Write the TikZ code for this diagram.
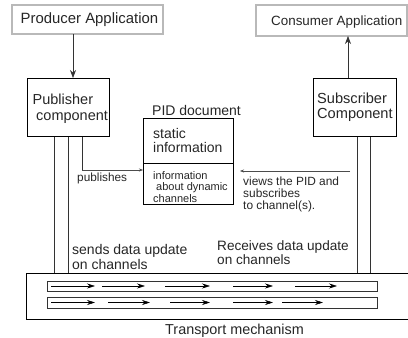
\documentclass[tikz,border=0pt]{standalone}
\usepackage{fontspec}
\setmainfont{Liberation Sans}
\usetikzlibrary{arrows.meta}
\newcommand{\fs}[2]{\fontsize{#1}{#2}\selectfont}
\tikzset{
  appbox/.style={draw=gray!55, line width=2pt, inner sep=0pt},
  compbox/.style={draw=black, line width=0.8pt, inner sep=0pt},
  txt/.style={anchor=base west, inner sep=0pt, align=left, text=black!85},
  wire/.style={draw=black!80, line width=0.7pt},
  bigarrow/.style={wire, -{Stealth[length=8pt,width=6pt]}},
  smallarrow/.style={draw=black!70, line width=0.5pt, -{Stealth[length=4pt,width=3pt]}},
  chanarrow/.style={draw=black, line width=0.5pt, -{Stealth[length=8pt,width=5pt]}},
  bar/.style={draw=black!80, line width=0.8pt}
}
\begin{document}
\begin{tikzpicture}[x=1pt,y=-1pt]
\useasboundingbox (0,0) rectangle (408,338);

% application boxes
\draw[appbox] (12,5) rectangle (163,34);
\draw[appbox] (256,5) rectangle (407,36);
\node[txt, font=\fs{14.9}{17}] (prod) at (20.5,23) {Producer Application};
\node[txt, font=\fs{13.4}{16}] (cons) at (271,25) {Consumer Application};
\coordinate (prodB) at (73,34);
\coordinate (consB) at (348,36);

% component boxes
\node[compbox, minimum width=82pt, minimum height=58pt, anchor=north west] (pub) at (27,78) {};
\node[compbox, minimum width=83pt, minimum height=58pt, anchor=north west] (sub) at (313,78) {};
% multi-line texts are placed by the baseline of their last line
\node[txt, font=\fs{14.5}{16}] at (32.5,120) {Publisher\\\hspace{3.5pt}component};
\node[txt, font=\fs{14.6}{15}] at (317,118) {Subscriber\\Component};

\draw[bigarrow] (prodB) -- (pub.north -| prodB);
\draw[bigarrow] (sub.north -| consB) -- (consB);

% PID document
\node[txt, font=\fs{14}{16}] (pidlbl) at (152,115) {PID document};
\node[compbox, minimum width=90pt, minimum height=86pt, anchor=north west] (pid) at (143,118) {};
\draw[compbox] (143,163) -- (233,163);
\node[txt, font=\fs{14}{14.4}] at (153,152.7) {static\\information};
\node[txt, font=\fs{11}{11.5}] at (153,202) {information\\\hspace{3pt}about dynamic\\channels};

% publisher wires
\draw[wire] (pub.south -| 54,0) -- (54,273);
\draw[wire] (pub.south -| 68,0) -- (68,273);
\coordinate (pubTurn) at (82,170);
\draw[wire] (pub.south -| pubTurn) -- (pubTurn);
\draw[smallarrow] (pubTurn) -- (pid.west |- pubTurn);
\node[txt, font=\fs{11.8}{12}] at (77,181) {publishes};

% subscriber wires
\draw[wire] (sub.south -| 357,0) -- (357,273);
\draw[wire] (sub.south -| 370,0) -- (370,273);
\coordinate (viewR) at (350,171);
\coordinate (viewL) at (240,171);
\draw[smallarrow] (viewR) -- (viewL);
\node[txt, font=\fs{11.9}{11.7}] at (243,209.3) {views the PID and\\subscribes\\to channel(s).};

% text on the wires
\node[txt, font=\fs{14}{15}] at (72,269) {sends data update\\on channels};
\node[txt, font=\fs{13.6}{14}] at (217,264) {Receives data update\\on channels};

% transport mechanism
\draw[compbox] (412,273) -- (26,273) -- (26,319) -- (412,319);
\draw[bar] (47,281) rectangle (377,291);
\draw[bar] (47,297) rectangle (377,308);
\foreach \a/\b in {51/95, 102/145, 165/210, 233/273, 295/337}
  \draw[chanarrow] (\a,286) -- (\b,286);
\foreach \a/\b in {51/95, 108/150, 170/210, 233/273, 282/323}
  \draw[chanarrow] (\a,302.5) -- (\b,302.5);
\node[txt, font=\fs{14.4}{16}] (trans) at (165,334) {Transport mechanism};
\end{tikzpicture}
\end{document}
